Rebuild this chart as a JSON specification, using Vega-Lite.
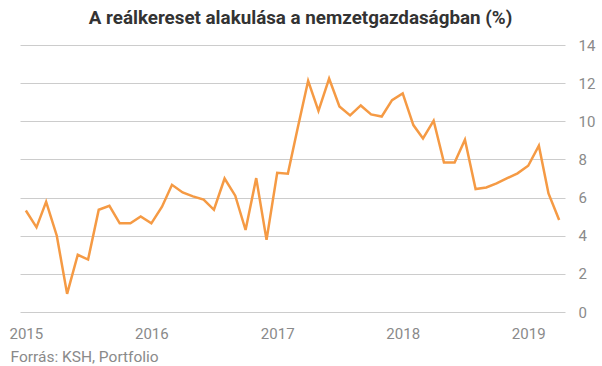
{
  "$schema": "https://vega.github.io/schema/vega-lite/v6.json",
  "autosize": "none",
  "width": 545,
  "height": 267,
  "padding": {"left": 20, "top": 45, "right": 37, "bottom": 54},
  "background": "white",
  "title": {
    "text": "A reálkereset alakulása a nemzetgazdaságban (%)",
    "font": "Roboto",
    "fontSize": 18.8,
    "fontWeight": "bold",
    "color": "#333333",
    "anchor": "middle",
    "dx": 8,
    "offset": 10
  },
  "data": {
    "values": [
      {"date": "2015-01-01", "value": 5.32},
      {"date": "2015-02-01", "value": 4.44},
      {"date": "2015-03-01", "value": 5.78},
      {"date": "2015-04-01", "value": 4.0},
      {"date": "2015-05-01", "value": 0.95},
      {"date": "2015-06-01", "value": 3.0},
      {"date": "2015-07-01", "value": 2.75},
      {"date": "2015-08-01", "value": 5.36},
      {"date": "2015-09-01", "value": 5.57},
      {"date": "2015-10-01", "value": 4.65},
      {"date": "2015-11-01", "value": 4.65},
      {"date": "2015-12-01", "value": 5.01},
      {"date": "2016-01-01", "value": 4.65},
      {"date": "2016-02-01", "value": 5.52},
      {"date": "2016-03-01", "value": 6.67},
      {"date": "2016-04-01", "value": 6.27},
      {"date": "2016-05-01", "value": 6.06},
      {"date": "2016-06-01", "value": 5.89},
      {"date": "2016-07-01", "value": 5.36},
      {"date": "2016-08-01", "value": 7.0},
      {"date": "2016-09-01", "value": 6.1},
      {"date": "2016-10-01", "value": 4.3},
      {"date": "2016-11-01", "value": 7.02},
      {"date": "2016-12-01", "value": 3.78},
      {"date": "2017-01-01", "value": 7.3},
      {"date": "2017-02-01", "value": 7.25},
      {"date": "2017-03-01", "value": 9.6},
      {"date": "2017-04-01", "value": 12.12},
      {"date": "2017-05-01", "value": 10.55},
      {"date": "2017-06-01", "value": 12.24},
      {"date": "2017-07-01", "value": 10.78},
      {"date": "2017-08-01", "value": 10.31},
      {"date": "2017-09-01", "value": 10.83},
      {"date": "2017-10-01", "value": 10.36},
      {"date": "2017-11-01", "value": 10.25},
      {"date": "2017-12-01", "value": 11.11},
      {"date": "2018-01-01", "value": 11.46},
      {"date": "2018-02-01", "value": 9.8},
      {"date": "2018-03-01", "value": 9.1},
      {"date": "2018-04-01", "value": 10.03},
      {"date": "2018-05-01", "value": 7.84},
      {"date": "2018-06-01", "value": 7.84},
      {"date": "2018-07-01", "value": 9.03},
      {"date": "2018-08-01", "value": 6.45},
      {"date": "2018-09-01", "value": 6.53},
      {"date": "2018-10-01", "value": 6.74},
      {"date": "2018-11-01", "value": 7.02},
      {"date": "2018-12-01", "value": 7.27},
      {"date": "2019-01-01", "value": 7.67},
      {"date": "2019-02-01", "value": 8.72},
      {"date": "2019-03-01", "value": 6.22},
      {"date": "2019-04-01", "value": 4.82}
    ]
  },
  "mark": {"type": "line", "color": "#f59a44", "strokeWidth": 2.5, "strokeJoin": "miter"},
  "encoding": {
    "x": {
      "field": "date",
      "type": "temporal",
      "scale": {
        "type": "utc",
        "domain": [
          {"year": 2014, "month": 12, "date": 15, "utc": true},
          {"year": 2019, "month": 4, "date": 18, "utc": true}
        ]
      },
      "axis": {
        "title": "Forrás: KSH, Portfolio",
        "titleFont": "Roboto",
        "titleFontSize": 15.5,
        "titleFontWeight": "normal",
        "titleColor": "#8a8a8a",
        "titleAlign": "left",
        "titleAnchor": "start",
        "titleBaseline": "middle",
        "titleX": -10,
        "titleY": 44,
        "format": "%Y",
        "formatType": "utc",
        "values": [
          {"year": 2015, "month": 1, "date": 1, "utc": true},
          {"year": 2016, "month": 1, "date": 1, "utc": true},
          {"year": 2017, "month": 1, "date": 1, "utc": true},
          {"year": 2018, "month": 1, "date": 1, "utc": true},
          {"year": 2019, "month": 1, "date": 1, "utc": true}
        ],
        "grid": false,
        "ticks": false,
        "domain": false,
        "labelFont": "Roboto",
        "labelFontSize": 15,
        "labelColor": "#8a8a8a",
        "labelPadding": 14
      }
    },
    "y": {
      "field": "value",
      "type": "quantitative",
      "scale": {"domain": [0, 14], "nice": false},
      "axis": {
        "orient": "right",
        "title": null,
        "values": [0, 2, 4, 6, 8, 10, 12, 14],
        "grid": true,
        "gridColor": "#cccccc",
        "gridWidth": 1,
        "ticks": false,
        "domain": false,
        "labelFont": "Roboto",
        "labelFontSize": 15,
        "labelColor": "#8a8a8a",
        "labelPadding": 13,
        "labelAlign": "left"
      }
    }
  },
  "config": {"view": {"stroke": null}}
}
